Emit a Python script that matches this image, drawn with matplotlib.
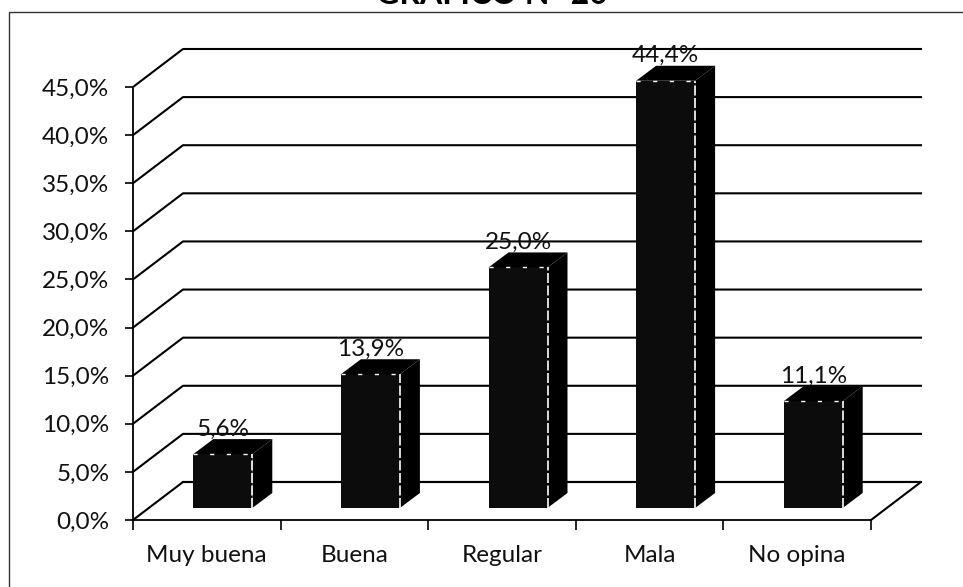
import matplotlib
matplotlib.use("Agg")
import matplotlib.pyplot as plt
from matplotlib.patches import Polygon

categorias = ["Muy buena", "Buena", "Regular", "Mala", "No opina"]
valores = [5.6, 13.9, 25.0, 44.4, 11.1]
etiquetas = ["5,6%", "13,9%", "25,0%", "44,4%", "11,1%"]
ticks_y = [0, 5, 10, 15, 20, 25, 30, 35, 40, 45]

W, H = 963, 587
plt.rcParams['font.family'] = ['Lato', 'DejaVu Sans']

fig = plt.figure(figsize=(W / 100, H / 100), dpi=100)
fig.patch.set_facecolor('white')

# marco del grafico (el escaneo no muestra el lado derecho ni el inferior)
fig.add_artist(plt.Line2D([8.5 / W, 8.5 / W, 1], [0, 1 - 11.5 / H, 1 - 11.5 / H],
                          color='#333333', lw=1.0))

# ejes: 5 categorias entre x=133 y x=871, 0-45 % entre y=520 y y=87
ax = fig.add_axes([133 / W, 1 - 520 / H, (871 - 133) / W, (520 - 87) / H])
ax.set_xlim(0, 5)
ax.set_ylim(0, 45)
ax.patch.set_visible(False)
for s in ['top', 'right']:
    ax.spines[s].set_visible(False)
for s in ['left', 'bottom']:
    ax.spines[s].set_linewidth(1.3)
    ax.spines[s].set_color('black')

# profundidad en unidades de datos
prof_x = 50 / 147.6
prof_y = 38 / 9.62
suelo_x = 16 / 147.6
suelo_y = 12 / 9.62
ancho = 59 / 147.6
barra_x = 20 / 147.6
barra_y = 15 / 9.62

# pared del fondo
for t in ticks_y:
    ax.plot([0, prof_x, 5 + prof_x], [t, t + prof_y, t + prof_y],
            color='black', lw=1.5, clip_on=False, zorder=1)
ax.plot([prof_x, 5 + prof_x, 5], [prof_y, prof_y, 0], color='black', lw=1.5, clip_on=False, zorder=1)

# barras
for i, v in enumerate(valores):
    x0 = i + 0.5 - ancho / 2 + suelo_x
    x1 = x0 + ancho
    y0 = suelo_y
    y1 = y0 + v
    ax.add_patch(Polygon([(x0, y0), (x1, y0), (x1, y1), (x0, y1)], closed=True,
                         fc='#0c0c0c', ec='none', clip_on=False, zorder=3))
    ax.add_patch(Polygon([(x1, y0), (x1 + barra_x, y0 + barra_y), (x1 + barra_x, y1 + barra_y), (x1, y1)],
                         closed=True, fc='black', ec='none', clip_on=False, zorder=3))
    ax.add_patch(Polygon([(x0, y1), (x1, y1), (x1 + barra_x, y1 + barra_y), (x0 + barra_x, y1 + barra_y)],
                         closed=True, fc='black', ec='none', clip_on=False, zorder=3))
    # arista clara entrecortada del escaneo
    ax.plot([x1, x1], [y0, y1], color='white', lw=1.2, ls=(0, (6, 1.5)), clip_on=False, zorder=4)
    ax.plot([x0, x1], [y1, y1], color='white', lw=1.0, ls=(0, (3, 9)), clip_on=False, zorder=4)
    ax.annotate(etiquetas[i], (i + 0.5 + suelo_x, y1 + barra_y), xytext=(0, 2.5),
                textcoords='offset points', ha='center', va='baseline',
                fontsize=17.5, color='#111111', zorder=5, annotation_clip=False)

ax.set_xticks(range(6))
ax.set_xticklabels([])
ax.set_xticks([i + 0.5 for i in range(5)], minor=True)
ax.set_xticklabels(categorias, minor=True, fontsize=17.5, color='#111111')
ax.tick_params(axis='x', which='major', length=7, width=1.2, direction='out')
ax.tick_params(axis='x', which='minor', length=0, pad=18)
ax.set_yticks(ticks_y)
ax.set_yticklabels([f"{t},0%" for t in ticks_y], fontsize=17.5, color='#111111')
ax.tick_params(axis='y', length=6, width=1.2, direction='out', pad=11)

# titulo cortado por el borde superior, igual que en la referencia
fig.text(492 / W, 1 - 4 / H, "GRÁFICO N° 20", ha='center', va='baseline', fontsize=23,
         fontweight='bold', color='black')

fig.savefig("out.png", dpi=100)
